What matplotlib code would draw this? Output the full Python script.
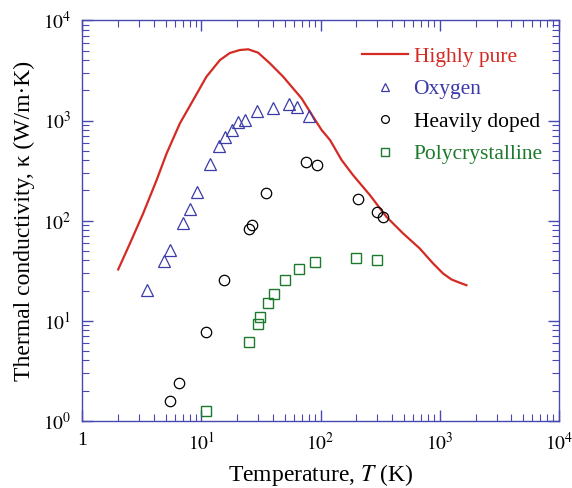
import numpy as np
import matplotlib.pyplot as plt
from matplotlib.ticker import LogLocator, NullFormatter

plt.rcParams['font.family'] = ['Liberation Serif', 'DejaVu Serif']
plt.rcParams['mathtext.fontset'] = 'stix'

# highly pure sample (solid curve)
pure_T = [2.00, 2.51, 3.24, 4.20, 5.10, 6.59, 8.52, 11.0, 14.3, 17.3, 21.0, 24.7, 29.9,
          37.5, 48.5, 69.2, 86.5, 102, 120, 150, 187, 259, 357, 492, 679, 879, 1066,
          1254, 1472, 1675]
pure_k = [32.5, 59.2, 118, 254, 470, 938, 1603, 2742, 4027, 4732, 5070, 5152, 4764,
          3733, 2742, 1667, 1091, 804, 638, 403, 285, 180, 109, 74.5, 52.7, 37.3, 29.6,
          25.8, 23.9, 22.6]

# oxygen-containing sample
oxy_T = [3.50, 4.86, 5.43, 6.98, 8.0, 9.1, 11.9, 13.9, 15.9, 18.0, 20.1, 23.0, 29.0,
         40.0, 54.1, 63.1, 79.6]
oxy_k = [20.2, 39.6, 50.7, 95, 130, 193, 367, 556, 684, 804, 966, 1012, 1253,
         1334, 1462, 1365, 1109]

# heavily doped sample
dop_T = [5.43, 6.43, 10.95, 15.4, 25.0, 26.8, 34.7, 74.7, 92.4, 206, 298, 337]
dop_k = [1.59, 2.37, 7.67, 25.4, 81.6, 90.8, 187, 382, 361, 164, 122, 108]

# polycrystalline sample
poly_T = [10.95, 25.0, 29.9, 31.1, 35.9, 40.7, 49.8, 65.6, 89.4, 200, 300]
poly_k = [1.24, 6.14, 9.16, 10.8, 15.0, 18.3, 25.4, 32.5, 38.5, 42.5, 40.6]

red = '#d42a24'
blue = '#3b3ba8'
green = '#1d7a2c'
axis_blue = '#4848b0'

fig = plt.figure(figsize=(5.72, 4.88), dpi=100)
ax = fig.add_axes([0.144, 0.138, 0.833, 0.820])

ax.plot(pure_T, pure_k, '-', color=red, lw=1.6, label='Highly pure')
ax.plot(oxy_T, oxy_k, '^', ms=8.5, mfc='none', mec=blue, mew=0.9, ls='none', label='Oxygen')
ax.plot(dop_T, dop_k, 'o', ms=7.5, mfc='none', mec='black', mew=0.9, ls='none', label='Heavily doped')
ax.plot(poly_T, poly_k, 's', ms=7.5, mfc='none', mec=green, mew=1.0, ls='none', label='Polycrystalline')

ax.set_xscale('log')
ax.set_yscale('log')
ax.set_xlim(1, 1e4)
ax.set_ylim(1, 1e4)

ax.xaxis.set_minor_locator(LogLocator(base=10, subs=np.arange(2, 10), numticks=20))
ax.yaxis.set_minor_locator(LogLocator(base=10, subs=np.arange(2, 10), numticks=20))
ax.xaxis.set_minor_formatter(NullFormatter())
ax.yaxis.set_minor_formatter(NullFormatter())
ax.set_xticks([1, 10, 100, 1000, 10000])
ax.set_xticklabels(['1', r'$10^1$', r'$10^2$', r'$10^3$', r'$10^4$'])
ax.set_yticks([1, 10, 100, 1000, 10000])
ax.set_yticklabels([r'$10^0$', r'$10^1$', r'$10^2$', r'$10^3$', r'$10^4$'])

for s in ax.spines.values():
    s.set_color(axis_blue)
    s.set_linewidth(1.0)
ax.tick_params(which='both', direction='in', top=True, right=True, color=axis_blue,
               labelsize=14, labelcolor='black')
ax.tick_params(which='major', length=8, width=1.0, pad=8)
ax.tick_params(which='minor', length=5, width=0.8)

ax.set_xlabel(r'Temperature, $\mathit{T}$ (K)', fontsize=17, labelpad=6)
ax.set_ylabel('Thermal conductivity, κ (W/m·K)', fontsize=17, labelpad=6)

leg = ax.legend(loc='upper left', bbox_to_anchor=(0.564, 0.962), frameon=False,
                fontsize=15.5, handlelength=2.15, handletextpad=0.25, labelspacing=0.58,
                borderpad=0, markerscale=0.75)
for txt, c in zip(leg.get_texts(), [red, blue, 'black', green]):
    txt.set_color(c)

fig.savefig('out.png', dpi=100)
